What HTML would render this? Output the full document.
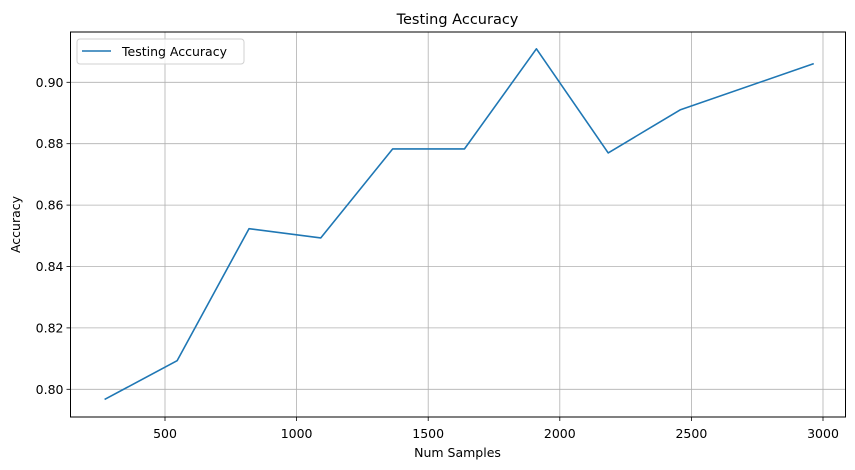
<!DOCTYPE html>
<html><head><meta charset="utf-8"><style>
html,body{margin:0;padding:0;background:#fff;}
svg{display:block;font-family:"DejaVu Sans","Liberation Sans",sans-serif;}
</style></head><body>
<svg id="chart" width="855" height="470" viewBox="0 0 855 470" xmlns="http://www.w3.org/2000/svg">
<rect x="0" y="0" width="855" height="470" fill="#fff"/>
<text x="457.5" y="24" text-anchor="middle" font-size="14.5" fill="#000">Testing Accuracy</text>
<g id="grid"></g>
<g id="ticks"></g>
<g id="series"></g>
<rect x="70.5" y="32" width="775" height="385" fill="none" stroke="#000" stroke-width="1"/>
<text x="457.5" y="457" text-anchor="middle" font-size="12.5" fill="#000">Num Samples</text>
<text x="20" y="224.5" text-anchor="middle" font-size="12.5" fill="#000" transform="rotate(-90 20 224.5)">Accuracy</text>
<g>
<rect x="77" y="39" width="167" height="25" rx="3" fill="#fff" fill-opacity="0.8" stroke="#d0d0d0"/>
<line x1="82" y1="51" x2="111" y2="51" stroke="#1f77b4" stroke-width="1.5"/>
<text x="122" y="56" font-size="12.5" fill="#000">Testing Accuracy</text>
</g>
</svg>
<script>
const samples = [273, 546, 819, 1092, 1365, 1638, 1911, 2184, 2457, 2962];
const accuracy = [0.7968, 0.8093, 0.8523, 0.8493, 0.8783, 0.8783, 0.9109, 0.8770, 0.8910, 0.9060];
const xTicks = [500, 1000, 1500, 2000, 2500, 3000];
const yTicks = [0.80, 0.82, 0.84, 0.86, 0.88, 0.90];

const NS = "http://www.w3.org/2000/svg";
const L = 70.5, R = 845.5, T = 32, B = 417;
function xs(v){ return 165 + (v - 500) * 0.2632; }
function ys(v){ return 389.3 - (v - 0.80) * 3070; }
function mk(tag, attrs, parent){
  const e = document.createElementNS(NS, tag);
  for (const k in attrs) e.setAttribute(k, attrs[k]);
  parent.appendChild(e);
  return e;
}
const grid = document.getElementById('grid');
const ticks = document.getElementById('ticks');
const series = document.getElementById('series');

xTicks.forEach(v => {
  const x = xs(v);
  const g = mk('line', {x1:x, y1:T, x2:x, y2:B, stroke:'#b0b0b0', 'stroke-width':0.8}, grid);
  
  
  const t = mk('line', {x1:x, y1:B, x2:x, y2:B+4, stroke:'#000', 'stroke-width':0.8}, ticks);
  
  
  const lb = mk('text', {x:x, y:B+21, 'text-anchor':'middle', 'font-size':12.5, fill:'#000'}, ticks);
  lb.textContent = String(v);
  
  
});
yTicks.forEach(v => {
  const y = ys(v);
  const g = mk('line', {x1:L, y1:y, x2:R, y2:y, stroke:'#b0b0b0', 'stroke-width':0.8}, grid);
  
  
  const t = mk('line', {x1:L-4, y1:y, x2:L, y2:y, stroke:'#000', 'stroke-width':0.8}, ticks);
  
  
  const lb = mk('text', {x:L-7, y:y+4.5, 'text-anchor':'end', 'font-size':12.5, fill:'#000'}, ticks);
  lb.textContent = v.toFixed(2);
  
  
});
const pts = samples.map((s, i) => xs(s).toFixed(1) + ',' + ys(accuracy[i]).toFixed(1)).join(' ');
const line = mk('polyline', {points:pts, fill:'none', stroke:'#1f77b4', 'stroke-width':1.6, 'stroke-linejoin':'round', 'stroke-linecap':'square'}, series);


</script>
</body></html>
